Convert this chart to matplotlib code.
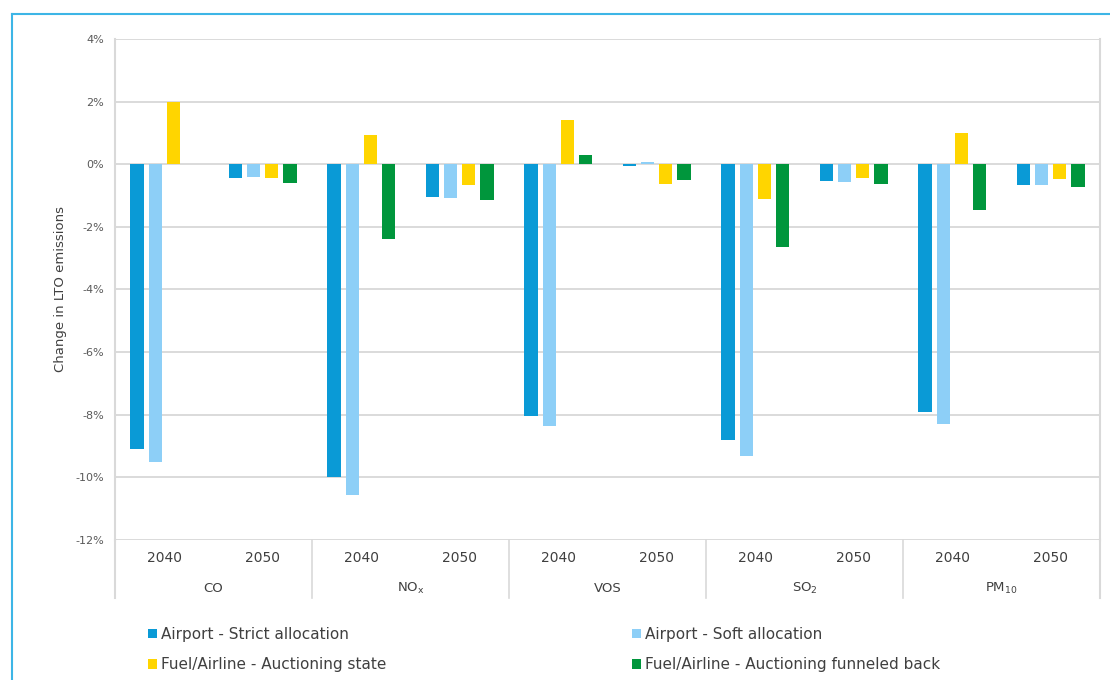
import matplotlib
matplotlib.use("Agg")
import matplotlib.pyplot as plt
import numpy as np
from matplotlib.lines import Line2D

pollutants = ["CO", r"$\mathregular{NO_x}$", "VOS", r"$\mathregular{SO_2}$", r"$\mathregular{PM_{10}}$"]
years = ["2040", "2050"]
series_names = ["Airport - Strict allocation", "Airport - Soft allocation",
                "Fuel/Airline - Auctioning state", "Fuel/Airline - Auctioning funneled back"]
# order: CO 2040, CO 2050, NOx 2040, NOx 2050, VOS 2040, VOS 2050, SO2 2040, SO2 2050, PM 2040, PM 2050
strict = [-9.1, -0.45, -10.0, -1.04, -8.05, -0.05, -8.8, -0.54, -7.9, -0.65]
soft = [-9.5, -0.4, -10.55, -1.07, -8.37, 0.08, -9.33, -0.56, -8.3, -0.65]
auction_state = [2.0, -0.45, 0.92, -0.65, 1.4, -0.62, -1.1, -0.44, 1.0, -0.47]
auction_back = [0.0, -0.6, -2.4, -1.13, 0.29, -0.49, -2.65, -0.62, -1.45, -0.72]
yticks = [4, 2, 0, -2, -4, -6, -8, -10, -12]

colors = ["#0A9AD6", "#8DCFF7", "#FFD500", "#00963C"]

W, H = 1110, 680
fig = plt.figure(figsize=(W / 100, H / 100), dpi=100)
fig.patch.set_facecolor("white")

# outer frame (top and left edges visible)
fig.add_artist(Line2D([12 / W, 1.0], [1 - 14 / H, 1 - 14 / H], color="#3DB5E6", lw=1.5))
fig.add_artist(Line2D([12 / W, 12 / W], [0, 1 - 14 / H], color="#3DB5E6", lw=1.5))

left, right, top, bottom = 115, 1100, 39, 540
ax = fig.add_axes([left / W, 1 - bottom / H, (right - left) / W, (bottom - top) / H])

n = len(strict)
x = np.arange(n)
step = 0.184
bw = 0.135
all_series = [strict, soft, auction_state, auction_back]
containers = []
for i, (vals, c) in enumerate(zip(all_series, colors)):
    bc = ax.bar(x + (i - 1.5) * step, vals, width=bw, color=c, zorder=3, label=series_names[i])
    containers.append(bc)

ax.set_xlim(-0.5, n - 0.5)
ax.set_ylim(-12, 4)
ax.set_yticks(yticks)
ax.set_yticklabels([f"{t}%" for t in yticks], fontsize=8, color="#595959")
ax.tick_params(axis="y", length=0, pad=8)
ax.set_xticks([])
for yv in yticks:
    ax.axhline(yv, color="#DADADA", lw=1.4, zorder=1)

for s in ["top", "bottom"]:
    ax.spines[s].set_visible(False)
for s in ["left", "right"]:
    ax.spines[s].set_color("#D9D9D9")
    ax.spines[s].set_linewidth(1.5)

ax.set_ylabel("Change in LTO emissions", fontsize=9.5, color="#404040", labelpad=6)

# category axis area
ext = -58 / (bottom - top)
trans = ax.get_xaxis_transform()
for xv in [-0.5, n - 0.5]:
    ax.add_line(Line2D([xv, xv], [0, ext], transform=trans, color="#D9D9D9", lw=1.5, clip_on=False))
for k in range(1, len(pollutants)):
    xv = 2 * k - 0.5
    ax.add_line(Line2D([xv, xv], [0, ext], transform=trans, color="#D9D9D9", lw=1.2, clip_on=False))

for i in range(n):
    ax.text(i, -18 / (bottom - top), years[i % 2], transform=trans, ha="center", va="center",
            fontsize=10, color="#404040")
for k, p in enumerate(pollutants):
    ax.text(2 * k + 0.5, -48 / (bottom - top), p, transform=trans, ha="center", va="center",
            fontsize=9.5, color="#404040")

# legends (two columns)
kw = dict(frameon=False, fontsize=11, handlelength=0.6, handleheight=0.6, handletextpad=0.25,
          labelspacing=1.0, borderpad=0, borderaxespad=0, labelcolor="#404040")
fig.legend([containers[0], containers[2]], [series_names[0], series_names[2]],
           loc="upper left", bbox_to_anchor=(148 / W, 1 - 627 / H), **kw)
fig.legend([containers[1], containers[3]], [series_names[1], series_names[3]],
           loc="upper left", bbox_to_anchor=(632 / W, 1 - 627 / H), **kw)

fig.savefig("out.png", dpi=100, facecolor="white")
